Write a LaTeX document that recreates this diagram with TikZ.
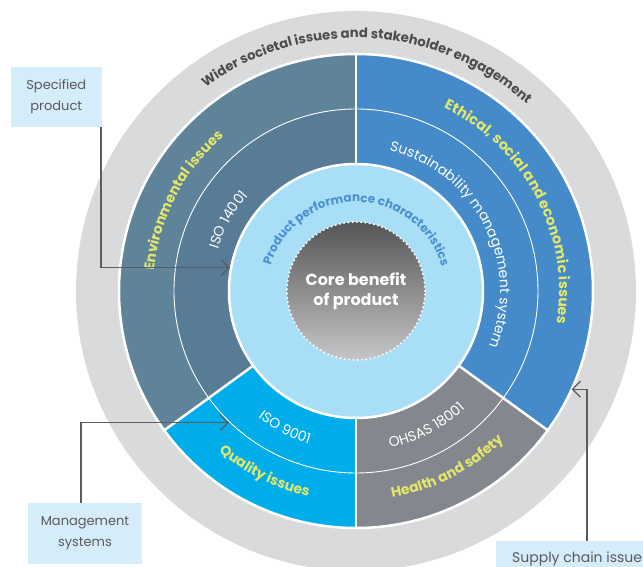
\documentclass[tikz,border=0pt]{standalone}
\usepackage{fontspec}
\setmainfont{Poppins}
\usetikzlibrary{arrows.meta,decorations.text}

\definecolor{ringgrey}{HTML}{D9DADC}
\definecolor{envblue}{HTML}{5F8399}
\definecolor{envdark}{HTML}{587C96}
\definecolor{ethblue}{HTML}{458BCA}
\definecolor{qualblue}{HTML}{00ADEB}
\definecolor{hsgrey}{HTML}{85878E}
\definecolor{perfblue}{HTML}{A9DEF7}
\definecolor{perftext}{HTML}{4A90D0}
\definecolor{issueyellow}{HTML}{E3E66A}
\definecolor{widertext}{HTML}{4D4D4F}
\definecolor{calloutfill}{HTML}{D5ECF9}
\definecolor{callouttext}{HTML}{5A5A5C}
\definecolor{linegrey}{HTML}{5C5C5E}
\definecolor{coretop}{HTML}{555557}
\definecolor{corebottom}{HTML}{C6C6C8}

\tikzset{every picture/.style={x=1pt,y=1pt}}
\tikzset{callout/.style={fill=calloutfill, text=callouttext, font=\fontsize{13}{21}\selectfont, align=center, inner sep=0pt}}
\tikzset{leader/.style={draw=linegrey, line width=1.2pt, -{Straight Barb[length=8pt,width=16pt]}}}
\tikzset{core/.style={circle, minimum size=138pt, inner sep=0pt, top color=coretop, bottom color=corebottom, draw=white, line width=2.2pt, dash pattern=on 0pt off 4.3pt, line cap=round, text=white, align=center, font=\fontsize{16}{20}\selectfont\bfseries}}
\tikzset{ringtext/.style 2 args={decorate, decoration={text along path, text align=center, text color=#1, text={#2}}}}

\newcommand{\sector}[3]{(0,0) -- (#1:#3) arc[start angle=#1, end angle=#2, radius=#3] -- cycle}
\newcommand{\overarc}[2]{(#1+85:#2) arc[start angle=#1+85, end angle=#1-85, radius=#2]}
\newcommand{\underarc}[2]{(#1-85:#2) arc[start angle=#1-85, end angle=#1+85, radius=#2]}
\newcommand{\widerfont}{\fontsize{13.2}{13.2}\selectfont\bfseries}
\newcommand{\issuefont}{\fontsize{14}{14}\selectfont\bfseries}
\newcommand{\isofont}{\fontsize{14}{14}\selectfont}
\newcommand{\perffont}{\fontsize{12}{12}\selectfont\bfseries}

\begin{document}
\begin{tikzpicture}
\useasboundingbox (-356,-276) rectangle (287,291);
\clip (-356,-276) rectangle (287,291);
\fill[ringgrey] (0,0) circle[radius=280];
\fill[envblue] \sector{90}{216}{237};
\fill[envdark] \sector{90}{216}{182};
\fill[ethblue] \sector{-36}{90}{237};
\fill[qualblue] \sector{216}{270}{237};
\fill[hsgrey] \sector{270}{324}{237};
\draw[white, line width=2.5pt] (0,0) circle[radius=237];
\draw[white, line width=0.9pt] (0,0) circle[radius=182];
\foreach \a in {90,216,270,324}
  \draw[white, line width=2.5pt] (0,0) -- (\a:237);
\fill[perfblue, draw=white, line width=2.5pt] (0,0) circle[radius=127];
\node[core] (core) at (0,0) {Core benefit\\of product};

\path[ringtext={widertext}{|\widerfont|Wider societal issues and stakeholder engagement}] \overarc{87}{253};
\path[ringtext={issueyellow}{|\fontsize{14.4}{14.4}\selectfont\bfseries|Ethical, social and economic issues}] \overarc{27.6}{203};
\path[ringtext={white}{|\isofont|Sustainability management system}] \overarc{27}{144};
\path[ringtext={perftext}{|\perffont|Product performance characteristics}] \overarc{89.5}{89};
\path[ringtext={issueyellow}{|\issuefont|Environmental issues}] \overarc{152.4}{203};
\path[ringtext={white}{|\isofont|ISO 14001}] \overarc{150.8}{144};
\path[ringtext={issueyellow}{|\issuefont|Quality issues}] \underarc{243.2}{211};
\path[ringtext={white}{|\isofont|ISO 9001}] \underarc{242.6}{160};
\path[ringtext={white}{|\isofont|OHSAS 18001}] \underarc{297.6}{160.5};
\path[ringtext={issueyellow}{|\issuefont|Health and safety}] \underarc{297.3}{210};

\node[callout, minimum width=91pt, minimum height=60pt] (spec) at (-299.7,194) {Specified\\product};
\node[callout, minimum width=114pt, minimum height=61pt] (mgmt) at (-271,-242.4) {Management\\systems};
\node[callout, anchor=north west, align=left, inner xsep=16pt, inner ysep=11pt, font=\fontsize{14}{14}\selectfont] (supply) at (140,-250) {Supply chain issues};

\coordinate (prodtip) at (-126,23.3);
\coordinate (mgmttip) at (-127,-131.7);
\coordinate (supplytip) at (215.7,-98.3);
\draw[leader] ([xshift=-1pt]spec.south east) |- (prodtip);
\draw[leader] ([xshift=-4pt]mgmt.north) |- (mgmttip);
\draw[leader] ([xshift=91pt]supply.north west) |- (supplytip);
\end{tikzpicture}
\end{document}
